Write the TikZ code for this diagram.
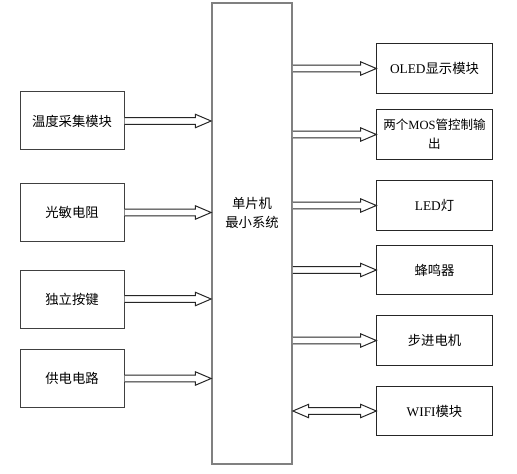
\documentclass[tikz,border=0pt]{standalone}
\usepackage{fontspec}
\setmainfont{Liberation Serif}
\newfontfamily\cjk{Noto Sans CJK SC}
\usetikzlibrary{positioning,calc}

% hollow block arrow from #1 to #2 (horizontal, pointing right)
\newcommand{\blockarrow}[2]{%
  \draw[arrow line] ($(#1)+(0,-3.3)$) -- ($(#2)+(-15.7,-3.3)$)
    -- ($(#2)+(-15.7,-6.7)$) -- (#2) -- ($(#2)+(-15.7,6.7)$)
    -- ($(#2)+(-15.7,3.3)$) -- ($(#1)+(0,3.3)$);}
% hollow block arrow with heads at both ends
\newcommand{\blockarrowboth}[2]{%
  \draw[arrow line] (#1) -- ($(#1)+(15.7,-6.7)$) -- ($(#1)+(15.7,-3.3)$)
    -- ($(#2)+(-15.7,-3.3)$) -- ($(#2)+(-15.7,-6.7)$) -- (#2)
    -- ($(#2)+(-15.7,6.7)$) -- ($(#2)+(-15.7,3.3)$)
    -- ($(#1)+(15.7,3.3)$) -- ($(#1)+(15.7,6.7)$) -- cycle;}

\begin{document}
\begin{tikzpicture}[x=0.75pt, y=-0.75pt,
  font=\cjk\fontsize{10}{14}\selectfont,
  in box/.style = {
    draw=black!75, line width=0.75pt,
    minimum width=78pt, minimum height=43.5pt,
  },
  out box/.style = {
    draw=black!85, line width=0.75pt, align=center,
    minimum width=86.5pt, minimum height=37pt,
  },
  arrow line/.style = {
    draw=black!85, line width=0.75pt, fill=white, line join=miter,
  }]
  \useasboundingbox (0,0) rectangle (517,474);

  % microcontroller core
  \node[draw=black!50, line width=1.3pt, minimum width=60pt, minimum height=345.75pt]
    (mcu) at (252,233.5) {};
  \node[align=center] (mcutext) at (252,213) {单片机\\最小系统};

  % inputs
  \node[in box] (temp)  at (72,121)   {温度采集模块};
  \node[in box] (light) at (72,212.5) {光敏电阻};
  \node[in box] (key)   at (72,299)   {独立按键};
  \node[in box] (power) at (72,378.5) {供电电路};

  % outputs
  \node[out box] (oled) at (434.5,68.5)  {{\rmfamily OLED}显示模块};
  \node[out box, font=\cjk\fontsize{9.4}{14}\selectfont] (mos) at (434.5,134.5)
    {两个{\rmfamily MOS}管控制输\\出};
  \node[out box] (led)  at (434.5,205.5) {{\rmfamily LED}灯};
  \node[out box] (buzz) at (434.5,270)   {蜂鸣器};
  \node[out box] (step) at (434.5,340.5) {步进电机};
  \node[out box] (wifi) at (434.5,411)   {{\rmfamily WIFI}模块};

  \foreach \src in {temp, light, key, power} {
    \coordinate (\src tip) at (mcu.west |- \src.east);
    \blockarrow{\src.east}{\src tip}
  }
  \foreach \dst in {oled, mos, led, buzz, step} {
    \coordinate (\dst tail) at (mcu.east |- \dst.west);
    \blockarrow{\dst tail}{\dst.west}
  }
  \coordinate (wifi tail) at (mcu.east |- wifi.west);
  \blockarrowboth{wifi tail}{wifi.west}
\end{tikzpicture}
\end{document}
